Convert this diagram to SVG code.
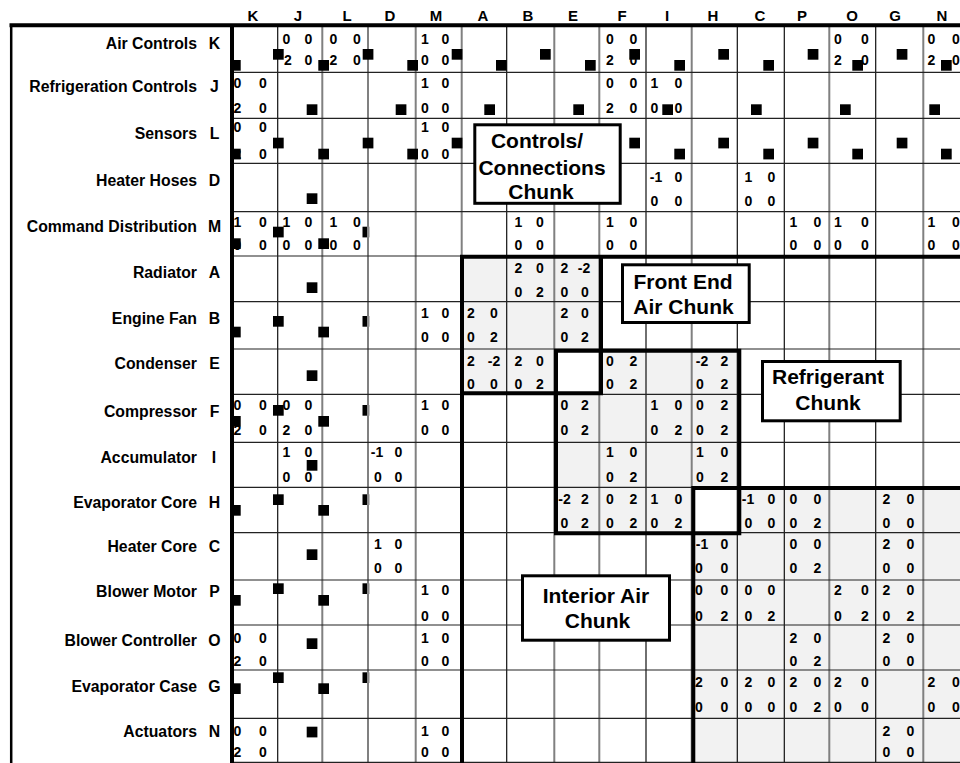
<svg xmlns="http://www.w3.org/2000/svg" width="960" height="763" viewBox="0 0 960 763">
<style>
text{font-family:"Liberation Sans",Arial,Helvetica,sans-serif;font-weight:bold;fill:#000}
.hd{font-size:15px;text-anchor:middle}
.rl{font-size:15.8px;text-anchor:end}
.rk{font-size:15.8px;text-anchor:middle}
.n{font-size:14px;text-anchor:middle}
.cl{font-size:21px;text-anchor:middle}
.gb{stroke:#111;stroke-width:1.2;fill:none}
.gg{stroke:#808080;stroke-width:2;fill:none}
.gh{stroke:#222;stroke-width:1.2;fill:none}
.thick{stroke:#000;stroke-width:4;fill:none;stroke-linecap:butt}
.frame{stroke:#000;stroke-width:2.5;fill:none}
.shade{fill:#f2f2f2}
.box{fill:#fff;stroke:#000;stroke-width:3}
</style>
<defs>
<rect id="s" width="10.7" height="10.7" fill="#000"/>
<g id="nq"><rect width="4.5" height="10.7" fill="#000"/><rect x="4.5" width="2.5" height="10.7" fill="#8a8a8a"/></g>
</defs>
<rect width="960" height="763" fill="#fff"/>

<g id="shading">
<path class="shade" d="M461.7 256H599.3V349H554.3V394.3H461.7Z"/>
<path class="shade" d="M599.3 349H737.3V487.3H691.7V532.7H554.3V394.3H599.3Z"/>
<path class="shade" d="M737.3 487.3H960V763H691.7V532.7H737.3Z"/>
</g>

<g id="grid">
<path class="gb" d="M277.7 25V763M506.7 25V763M646 25V763M737.3 25V763M784.3 25V763M875.7 25V763"/>
<path class="gg" d="M322.3 25V763M368 25V763M415.7 25V763M461.7 25V763M554.3 25V763M599.3 25V763M691.7 25V763M829.3 25V763M923.3 25V763"/>
<path class="gh" d="M232 72.3H960M232 118.3H960M232 163.3H960M232 211.7H960M232 256H960M232 301.7H960M232 349H960M232 394.3H960M232 442.3H960M232 487.3H960M232 532.7H960M232 580H960M232 625H960M232 670H960M232 718.3H960M232 762.3H960"/>
</g>

<g id="frame">
<path class="frame" d="M11.2 24V763"/>
<path class="thick" d="M9.5 25.3H960M232 23.3V763M462 254.7V763M460 256.7H960"/>
<path class="thick" d="M601 256.7V395.3M462 393.3H603"/>
<path class="thick" d="M556 350.7H739.3V533.3H556Z"/>
<path class="thick" d="M693.3 488H960M693.3 486V763"/>
</g>

<g id="col-headers">
<text class="hd" x="253" y="20.5">K</text>
<text class="hd" x="298" y="20.5">J</text>
<text class="hd" x="347" y="20.5">L</text>
<text class="hd" x="390" y="20.5">D</text>
<text class="hd" x="436" y="20.5">M</text>
<text class="hd" x="483" y="20.5">A</text>
<text class="hd" x="528" y="20.5">B</text>
<text class="hd" x="573" y="20.5">E</text>
<text class="hd" x="622" y="20.5">F</text>
<text class="hd" x="667" y="20.5">I</text>
<text class="hd" x="713" y="20.5">H</text>
<text class="hd" x="760" y="20.5">C</text>
<text class="hd" x="802" y="20.5">P</text>
<text class="hd" x="852" y="20.5">O</text>
<text class="hd" x="895" y="20.5">G</text>
<text class="hd" x="942" y="20.5">N</text>
</g>

<g id="row-labels">
<g id="row-K"><text class="rl" x="197" y="48.5">Air Controls</text><text class="rk" x="214.5" y="48.5">K</text></g>
<g id="row-J"><text class="rl" x="197" y="91.5">Refrigeration Controls</text><text class="rk" x="214.5" y="91.5">J</text></g>
<g id="row-L"><text class="rl" x="197" y="139">Sensors</text><text class="rk" x="214.5" y="139">L</text></g>
<g id="row-D"><text class="rl" x="197" y="185.5">Heater Hoses</text><text class="rk" x="214.5" y="185.5">D</text></g>
<g id="row-M"><text class="rl" x="197" y="232">Command Distribution</text><text class="rk" x="214.5" y="232">M</text></g>
<g id="row-A"><text class="rl" x="197" y="278">Radiator</text><text class="rk" x="214.5" y="278">A</text></g>
<g id="row-B"><text class="rl" x="197" y="323.5">Engine Fan</text><text class="rk" x="214.5" y="323.5">B</text></g>
<g id="row-E"><text class="rl" x="197" y="368.5">Condenser</text><text class="rk" x="214.5" y="368.5">E</text></g>
<g id="row-F"><text class="rl" x="197" y="417">Compressor</text><text class="rk" x="214.5" y="417">F</text></g>
<g id="row-I"><text class="rl" x="197" y="462.5">Accumulator</text><text class="rk" x="214" y="462.5">I</text></g>
<g id="row-H"><text class="rl" x="197" y="507.5">Evaporator Core</text><text class="rk" x="214.5" y="507.5">H</text></g>
<g id="row-C"><text class="rl" x="197" y="552">Heater Core</text><text class="rk" x="214.5" y="552">C</text></g>
<g id="row-P"><text class="rl" x="197" y="597">Blower Motor</text><text class="rk" x="214.5" y="597">P</text></g>
<g id="row-O"><text class="rl" x="197" y="645.5">Blower Controller</text><text class="rk" x="214.5" y="645.5">O</text></g>
<g id="row-G"><text class="rl" x="197" y="691.5">Evaporator Case</text><text class="rk" x="214.5" y="691.5">G</text></g>
<g id="row-N"><text class="rl" x="197" y="737">Actuators</text><text class="rk" x="214.5" y="737">N</text></g>
</g>

<g id="cells">
<!-- Row K -->
<text class="n" y="44.3"><tspan x="286.5">0</tspan><tspan x="308.5">0</tspan></text>
<text class="n" y="65.3"><tspan x="288">2</tspan><tspan x="308.5">0</tspan></text>
<text class="n" y="44.3"><tspan x="333.5">0</tspan><tspan x="357">0</tspan></text>
<text class="n" y="65.3"><tspan x="333.5">2</tspan><tspan x="357">0</tspan></text>
<text class="n" y="44.3"><tspan x="425">1</tspan><tspan x="445.5">0</tspan></text>
<text class="n" y="65.3"><tspan x="425">0</tspan><tspan x="445.5">0</tspan></text>
<text class="n" y="44.3"><tspan x="610">0</tspan><tspan x="633.5">0</tspan></text>
<text class="n" y="65.3"><tspan x="610">2</tspan><tspan x="633.5">0</tspan></text>
<text class="n" y="44.3"><tspan x="838">0</tspan><tspan x="865">0</tspan></text>
<text class="n" y="65.3"><tspan x="838">2</tspan><tspan x="865">0</tspan></text>
<text class="n" y="44.3"><tspan x="931.5">0</tspan><tspan x="956">0</tspan></text>
<text class="n" y="65.3"><tspan x="931.5">2</tspan><tspan x="956">0</tspan></text>
<!-- Row J -->
<text class="n" y="87.5"><tspan x="237.5">0</tspan><tspan x="263">0</tspan></text>
<text class="n" y="113.3"><tspan x="237.5">2</tspan><tspan x="263">0</tspan></text>
<text class="n" y="87.5"><tspan x="425">1</tspan><tspan x="445.5">0</tspan></text>
<text class="n" y="113.3"><tspan x="425">0</tspan><tspan x="445.5">0</tspan></text>
<text class="n" y="87.5"><tspan x="610">0</tspan><tspan x="633.5">0</tspan></text>
<text class="n" y="113.3"><tspan x="610">2</tspan><tspan x="633.5">0</tspan></text>
<text class="n" y="87.5"><tspan x="654.5">1</tspan><tspan x="678.5">0</tspan></text>
<text class="n" y="113.3"><tspan x="654.5">0</tspan><tspan x="678.5">0</tspan></text>
<!-- Row L -->
<text class="n" y="131.5"><tspan x="237.5">0</tspan><tspan x="263">0</tspan></text>
<text class="n" y="159"><tspan x="237.5">2</tspan><tspan x="263">0</tspan></text>
<text class="n" y="131.5"><tspan x="425">1</tspan><tspan x="445.5">0</tspan></text>
<text class="n" y="159"><tspan x="425">0</tspan><tspan x="445.5">0</tspan></text>
<!-- Row D -->
<text class="n" y="181.5"><tspan x="656">-1</tspan><tspan x="678.5">0</tspan></text>
<text class="n" y="206"><tspan x="654.5">0</tspan><tspan x="678.5">0</tspan></text>
<text class="n" y="181.5"><tspan x="748.5">1</tspan><tspan x="771.5">0</tspan></text>
<text class="n" y="206"><tspan x="748.5">0</tspan><tspan x="771.5">0</tspan></text>
<!-- Row M -->
<text class="n" y="226.7"><tspan x="237.5">1</tspan><tspan x="263">0</tspan></text>
<text class="n" y="250"><tspan x="237.5">0</tspan><tspan x="263">0</tspan></text>
<text class="n" y="226.7"><tspan x="286.5">1</tspan><tspan x="308.5">0</tspan></text>
<text class="n" y="250"><tspan x="286.5">0</tspan><tspan x="308.5">0</tspan></text>
<text class="n" y="226.7"><tspan x="333.5">1</tspan><tspan x="357">0</tspan></text>
<text class="n" y="250"><tspan x="333.5">0</tspan><tspan x="357">0</tspan></text>
<text class="n" y="226.7"><tspan x="518.5">1</tspan><tspan x="540">0</tspan></text>
<text class="n" y="250"><tspan x="518.5">0</tspan><tspan x="540">0</tspan></text>
<text class="n" y="226.7"><tspan x="610">1</tspan><tspan x="633.5">0</tspan></text>
<text class="n" y="250"><tspan x="610">0</tspan><tspan x="633.5">0</tspan></text>
<text class="n" y="226.7"><tspan x="793.5">1</tspan><tspan x="817.5">0</tspan></text>
<text class="n" y="250"><tspan x="793.5">0</tspan><tspan x="817.5">0</tspan></text>
<text class="n" y="226.7"><tspan x="838">1</tspan><tspan x="865">0</tspan></text>
<text class="n" y="250"><tspan x="838">0</tspan><tspan x="865">0</tspan></text>
<text class="n" y="226.7"><tspan x="931.5">1</tspan><tspan x="956">0</tspan></text>
<text class="n" y="250"><tspan x="931.5">0</tspan><tspan x="956">0</tspan></text>
<!-- Row A -->
<text class="n" y="272.7"><tspan x="518.5">2</tspan><tspan x="540">0</tspan></text>
<text class="n" y="296.7"><tspan x="518.5">0</tspan><tspan x="540">2</tspan></text>
<text class="n" y="272.7"><tspan x="564.5">2</tspan><tspan x="584">-2</tspan></text>
<text class="n" y="296.7"><tspan x="564.5">0</tspan><tspan x="585">0</tspan></text>
<!-- Row B -->
<text class="n" y="318.3"><tspan x="425">1</tspan><tspan x="445.5">0</tspan></text>
<text class="n" y="341.7"><tspan x="425">0</tspan><tspan x="445.5">0</tspan></text>
<text class="n" y="318.3"><tspan x="471">2</tspan><tspan x="494">0</tspan></text>
<text class="n" y="341.7"><tspan x="471">0</tspan><tspan x="494">2</tspan></text>
<text class="n" y="318.3"><tspan x="564.5">2</tspan><tspan x="585">0</tspan></text>
<text class="n" y="341.7"><tspan x="564.5">0</tspan><tspan x="585">2</tspan></text>
<!-- Row E -->
<text class="n" y="365.7"><tspan x="471">2</tspan><tspan x="494">-2</tspan></text>
<text class="n" y="389"><tspan x="471">0</tspan><tspan x="494">0</tspan></text>
<text class="n" y="365.7"><tspan x="518.5">2</tspan><tspan x="540">0</tspan></text>
<text class="n" y="389"><tspan x="518.5">0</tspan><tspan x="540">2</tspan></text>
<text class="n" y="365.7"><tspan x="610">0</tspan><tspan x="633.5">2</tspan></text>
<text class="n" y="389"><tspan x="610">0</tspan><tspan x="633.5">2</tspan></text>
<text class="n" y="365.7"><tspan x="702">-2</tspan><tspan x="724.5">2</tspan></text>
<text class="n" y="389"><tspan x="700">0</tspan><tspan x="724.5">2</tspan></text>
<!-- Row F -->
<text class="n" y="410"><tspan x="237.5">0</tspan><tspan x="263">0</tspan></text>
<text class="n" y="435"><tspan x="237.5">2</tspan><tspan x="263">0</tspan></text>
<text class="n" y="410"><tspan x="286.5">0</tspan><tspan x="308.5">0</tspan></text>
<text class="n" y="435"><tspan x="286.5">2</tspan><tspan x="308.5">0</tspan></text>
<text class="n" y="410"><tspan x="425">1</tspan><tspan x="445.5">0</tspan></text>
<text class="n" y="435"><tspan x="425">0</tspan><tspan x="445.5">0</tspan></text>
<text class="n" y="410"><tspan x="564.5">0</tspan><tspan x="585">2</tspan></text>
<text class="n" y="435"><tspan x="564.5">0</tspan><tspan x="585">2</tspan></text>
<text class="n" y="410"><tspan x="654.5">1</tspan><tspan x="678.5">0</tspan></text>
<text class="n" y="435"><tspan x="654.5">0</tspan><tspan x="678.5">2</tspan></text>
<text class="n" y="410"><tspan x="700">0</tspan><tspan x="724.5">2</tspan></text>
<text class="n" y="435"><tspan x="700">0</tspan><tspan x="724.5">2</tspan></text>
<!-- Row I -->
<text class="n" y="456.7"><tspan x="286.5">1</tspan><tspan x="308.5">0</tspan></text>
<text class="n" y="482.3"><tspan x="286.5">0</tspan><tspan x="308.5">0</tspan></text>
<text class="n" y="456.7"><tspan x="377">-1</tspan><tspan x="398.5">0</tspan></text>
<text class="n" y="482.3"><tspan x="378">0</tspan><tspan x="398.5">0</tspan></text>
<text class="n" y="456.7"><tspan x="610">1</tspan><tspan x="633.5">0</tspan></text>
<text class="n" y="482.3"><tspan x="610">0</tspan><tspan x="633.5">2</tspan></text>
<text class="n" y="456.7"><tspan x="700">1</tspan><tspan x="724.5">0</tspan></text>
<text class="n" y="482.3"><tspan x="700">0</tspan><tspan x="724.5">2</tspan></text>
<!-- Row H -->
<text class="n" y="504.3"><tspan x="564.5">-2</tspan><tspan x="585">2</tspan></text>
<text class="n" y="528.3"><tspan x="564.5">0</tspan><tspan x="585">2</tspan></text>
<text class="n" y="504.3"><tspan x="610">0</tspan><tspan x="633.5">2</tspan></text>
<text class="n" y="528.3"><tspan x="610">0</tspan><tspan x="633.5">2</tspan></text>
<text class="n" y="504.3"><tspan x="654.5">1</tspan><tspan x="678.5">0</tspan></text>
<text class="n" y="528.3"><tspan x="654.5">0</tspan><tspan x="678.5">2</tspan></text>
<text class="n" y="504.3"><tspan x="748">-1</tspan><tspan x="771.5">0</tspan></text>
<text class="n" y="528.3"><tspan x="748.5">0</tspan><tspan x="771.5">0</tspan></text>
<text class="n" y="504.3"><tspan x="793.5">0</tspan><tspan x="817.5">0</tspan></text>
<text class="n" y="528.3"><tspan x="793.5">0</tspan><tspan x="817.5">2</tspan></text>
<text class="n" y="504.3"><tspan x="886.5">2</tspan><tspan x="910.5">0</tspan></text>
<text class="n" y="528.3"><tspan x="886.5">0</tspan><tspan x="910.5">0</tspan></text>
<!-- Row C -->
<text class="n" y="549.3"><tspan x="378">1</tspan><tspan x="398.5">0</tspan></text>
<text class="n" y="573.3"><tspan x="378">0</tspan><tspan x="398.5">0</tspan></text>
<text class="n" y="549.3"><tspan x="702">-1</tspan><tspan x="724.5">0</tspan></text>
<text class="n" y="573.3"><tspan x="699">0</tspan><tspan x="724.5">0</tspan></text>
<text class="n" y="549.3"><tspan x="793.5">0</tspan><tspan x="817.5">0</tspan></text>
<text class="n" y="573.3"><tspan x="793.5">0</tspan><tspan x="817.5">2</tspan></text>
<text class="n" y="549.3"><tspan x="886.5">2</tspan><tspan x="910.5">0</tspan></text>
<text class="n" y="573.3"><tspan x="886.5">0</tspan><tspan x="910.5">0</tspan></text>
<!-- Row P -->
<text class="n" y="594.5"><tspan x="425">1</tspan><tspan x="445.5">0</tspan></text>
<text class="n" y="620.5"><tspan x="425">0</tspan><tspan x="445.5">0</tspan></text>
<text class="n" y="594.5"><tspan x="699">0</tspan><tspan x="724.5">0</tspan></text>
<text class="n" y="620.5"><tspan x="699">0</tspan><tspan x="724.5">2</tspan></text>
<text class="n" y="594.5"><tspan x="748.5">0</tspan><tspan x="771.5">0</tspan></text>
<text class="n" y="620.5"><tspan x="748.5">0</tspan><tspan x="771.5">2</tspan></text>
<text class="n" y="594.5"><tspan x="838">2</tspan><tspan x="865">0</tspan></text>
<text class="n" y="620.5"><tspan x="838">0</tspan><tspan x="865">2</tspan></text>
<text class="n" y="594.5"><tspan x="886.5">2</tspan><tspan x="910.5">0</tspan></text>
<text class="n" y="620.5"><tspan x="886.5">0</tspan><tspan x="910.5">2</tspan></text>
<!-- Row O -->
<text class="n" y="642.7"><tspan x="237.5">0</tspan><tspan x="263">0</tspan></text>
<text class="n" y="666"><tspan x="237.5">2</tspan><tspan x="263">0</tspan></text>
<text class="n" y="642.7"><tspan x="425">1</tspan><tspan x="445.5">0</tspan></text>
<text class="n" y="666"><tspan x="425">0</tspan><tspan x="445.5">0</tspan></text>
<text class="n" y="642.7"><tspan x="793.5">2</tspan><tspan x="817.5">0</tspan></text>
<text class="n" y="666"><tspan x="793.5">0</tspan><tspan x="817.5">2</tspan></text>
<text class="n" y="642.7"><tspan x="886.5">2</tspan><tspan x="910.5">0</tspan></text>
<text class="n" y="666"><tspan x="886.5">0</tspan><tspan x="910.5">0</tspan></text>
<!-- Row G -->
<text class="n" y="687.3"><tspan x="699">2</tspan><tspan x="724.5">0</tspan></text>
<text class="n" y="711.7"><tspan x="699">0</tspan><tspan x="724.5">0</tspan></text>
<text class="n" y="687.3"><tspan x="748.5">2</tspan><tspan x="771.5">0</tspan></text>
<text class="n" y="711.7"><tspan x="748.5">0</tspan><tspan x="771.5">0</tspan></text>
<text class="n" y="687.3"><tspan x="793.5">2</tspan><tspan x="817.5">0</tspan></text>
<text class="n" y="711.7"><tspan x="793.5">0</tspan><tspan x="817.5">2</tspan></text>
<text class="n" y="687.3"><tspan x="838">2</tspan><tspan x="865">0</tspan></text>
<text class="n" y="711.7"><tspan x="838">0</tspan><tspan x="865">0</tspan></text>
<text class="n" y="687.3"><tspan x="931.5">2</tspan><tspan x="956">0</tspan></text>
<text class="n" y="711.7"><tspan x="931.5">0</tspan><tspan x="956">0</tspan></text>
<!-- Row N -->
<text class="n" y="735.5"><tspan x="237.5">0</tspan><tspan x="263">0</tspan></text>
<text class="n" y="756.7"><tspan x="237.5">2</tspan><tspan x="263">0</tspan></text>
<text class="n" y="735.5"><tspan x="425">1</tspan><tspan x="445.5">0</tspan></text>
<text class="n" y="756.7"><tspan x="425">0</tspan><tspan x="445.5">0</tspan></text>
<text class="n" y="735.5"><tspan x="886.5">2</tspan><tspan x="910.5">0</tspan></text>
<text class="n" y="756.7"><tspan x="886.5">0</tspan><tspan x="910.5">0</tspan></text>
</g>

<g id="marks">
<use href="#s" x="230" y="60"/><use href="#s" x="273" y="49"/><use href="#s" x="318.3" y="60"/><use href="#s" x="362.7" y="49"/><use href="#s" x="407.3" y="60"/><use href="#s" x="451.7" y="49"/><use href="#s" x="496" y="60"/><use href="#s" x="540" y="49"/><use href="#s" x="585" y="60"/><use href="#s" x="629.3" y="49"/><use href="#s" x="674.3" y="60"/><use href="#s" x="718.3" y="49"/><use href="#s" x="763.3" y="60"/><use href="#s" x="807.7" y="49"/><use href="#s" x="852.3" y="60"/><use href="#s" x="896.7" y="49"/><use href="#s" x="941" y="60"/>
<use href="#s" x="306.7" y="104.3"/><use href="#s" x="395.7" y="104.3"/><use href="#s" x="484.3" y="104.3"/><use href="#s" x="573.3" y="104.3"/><use href="#s" x="662.3" y="104.3"/><use href="#s" x="751" y="104.3"/><use href="#s" x="840" y="104.3"/><use href="#s" x="929.3" y="104.3"/>
<use href="#s" x="230" y="148.7"/><use href="#s" x="273" y="137.7"/><use href="#s" x="318.3" y="148.7"/><use href="#s" x="362.7" y="137.7"/><use href="#s" x="407.3" y="148.7"/><use href="#s" x="451.7" y="137.7"/><use href="#s" x="629.3" y="137.7"/><use href="#s" x="674.3" y="148.7"/><use href="#s" x="718.3" y="137.7"/><use href="#s" x="763.3" y="148.7"/><use href="#s" x="807.7" y="137.7"/><use href="#s" x="852.3" y="148.7"/><use href="#s" x="896.7" y="137.7"/><use href="#s" x="941" y="148.7"/>
<use href="#s" x="306.7" y="193.3"/>
<use href="#s" x="230" y="238.3"/><use href="#s" x="273" y="226.7"/><use href="#s" x="318.3" y="238.3"/><use href="#nq" x="362.5" y="226.7"/>
<use href="#s" x="306.7" y="282.3"/>
<use href="#s" x="230" y="326.7"/><use href="#s" x="273" y="316"/><use href="#s" x="318.3" y="326.7"/><use href="#nq" x="362.5" y="316"/>
<use href="#s" x="306.7" y="370.3"/>
<use href="#s" x="230" y="416"/><use href="#s" x="273" y="405"/><use href="#s" x="318.3" y="416"/><use href="#nq" x="362.5" y="405"/>
<use href="#s" x="306.7" y="460"/>
<use href="#s" x="230" y="505"/><use href="#s" x="273" y="494.3"/><use href="#s" x="318.3" y="505"/><use href="#nq" x="362.5" y="494.3"/>
<use href="#s" x="306.7" y="549.3"/>
<use href="#s" x="230" y="595"/><use href="#s" x="273" y="583.3"/><use href="#s" x="318.3" y="595"/><use href="#nq" x="362.5" y="583.3"/>
<use href="#s" x="306.7" y="638.3"/>
<use href="#s" x="230" y="683.3"/><use href="#s" x="273" y="672.3"/><use href="#s" x="318.3" y="683.3"/><use href="#nq" x="362.5" y="672.3"/>
<use href="#s" x="306.7" y="726.7"/>
</g>

<g id="chunk-controls">
<rect class="box" x="474.8" y="124.8" width="145.4" height="78.5"/>
<text class="cl" x="537" y="148">Controls/</text>
<text class="cl" x="542" y="174.5">Connections</text>
<text class="cl" x="541" y="199">Chunk</text>
</g>
<g id="chunk-front-end">
<rect class="box" x="622.5" y="264.8" width="126.7" height="57.7"/>
<text class="cl" x="683" y="289">Front End</text>
<text class="cl" x="683.5" y="314">Air Chunk</text>
</g>
<g id="chunk-refrigerant">
<rect class="box" x="762.5" y="361.5" width="137.7" height="59.3"/>
<text class="cl" x="828" y="384">Refrigerant</text>
<text class="cl" x="828" y="410">Chunk</text>
</g>
<g id="chunk-interior">
<rect class="box" x="522.5" y="575.8" width="147" height="64.4"/>
<text class="cl" x="596" y="603.3">Interior Air</text>
<text class="cl" x="597.5" y="628.3">Chunk</text>
</g>
</svg>
